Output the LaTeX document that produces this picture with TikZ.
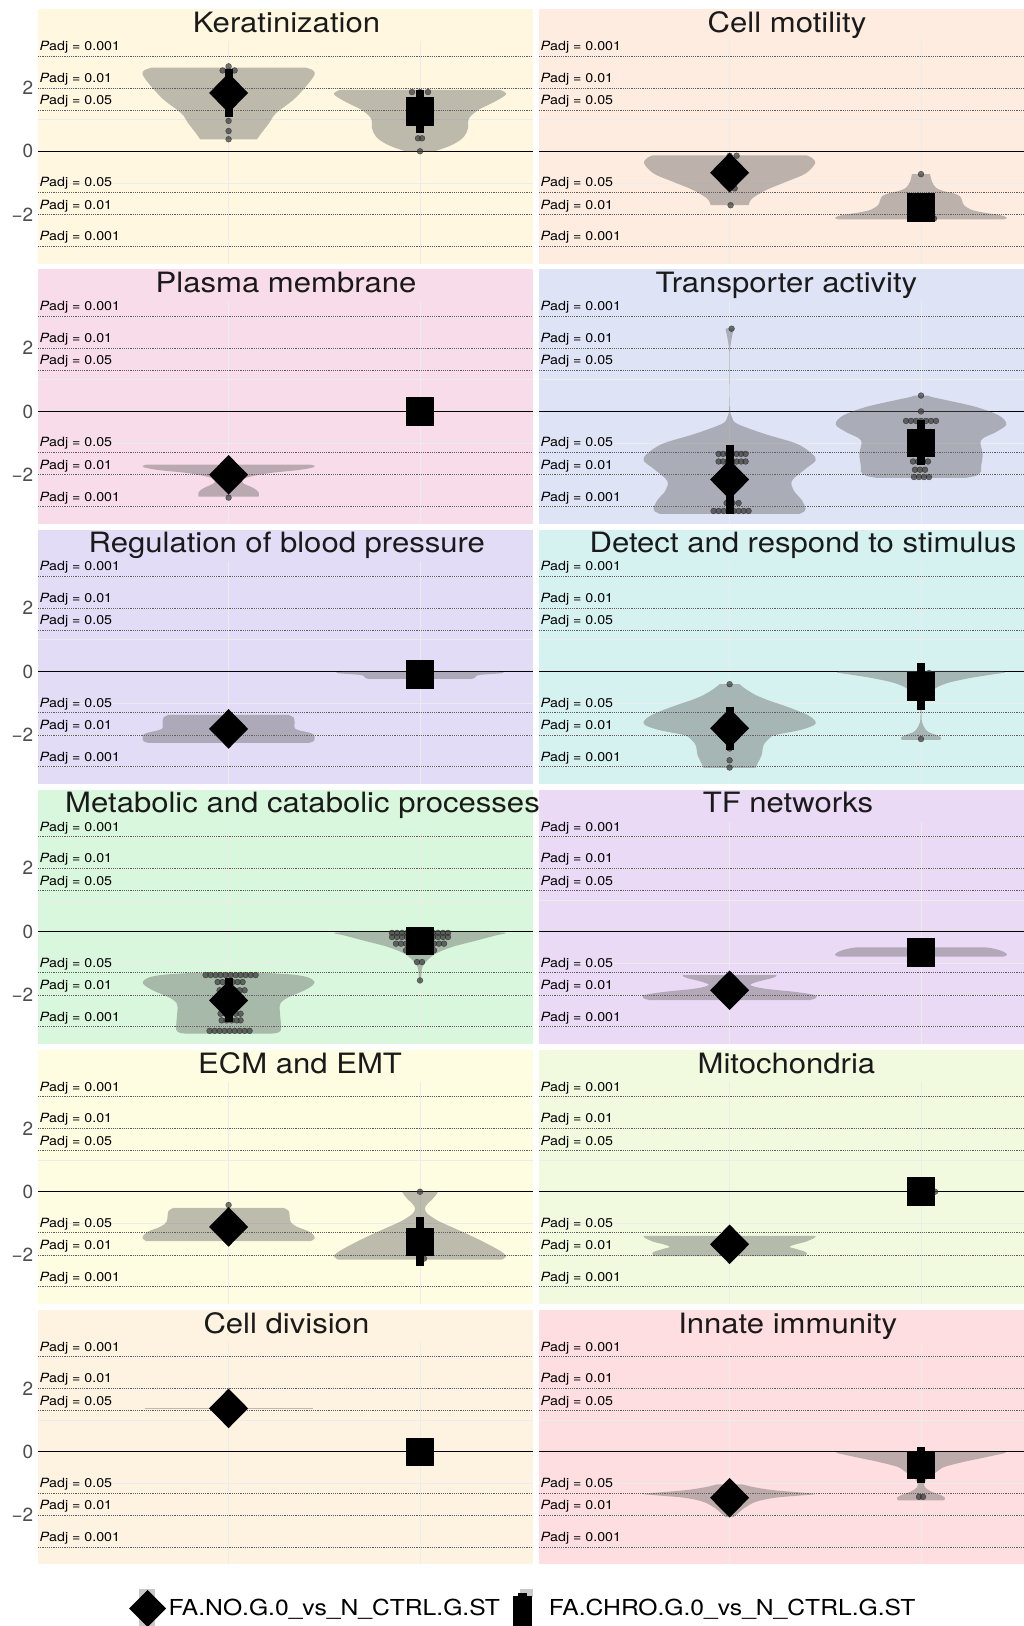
\documentclass[tikz,border=0pt]{standalone}
\usepackage{fontspec}
\usepackage{graphicx}
\setmainfont{TeX Gyre Heros}
\definecolor{bgA}{HTML}{FFF7E0}
\definecolor{bgB}{HTML}{FDECDF}
\definecolor{bgC}{HTML}{F9DCEA}
\definecolor{bgD}{HTML}{DEE3F5}
\definecolor{bgE}{HTML}{E2DCF6}
\definecolor{bgF}{HTML}{D5F2F1}
\definecolor{bgG}{HTML}{D9F7DC}
\definecolor{bgH}{HTML}{EBDAF6}
\definecolor{bgI}{HTML}{FFFDE1}
\definecolor{bgJ}{HTML}{F1FADF}
\definecolor{bgK}{HTML}{FEF3E0}
\definecolor{bgL}{HTML}{FEDEE0}
\definecolor{viocol}{RGB}{100,100,100}
\definecolor{dotcol}{RGB}{60,60,60}
\definecolor{dotedge}{RGB}{30,30,30}
\definecolor{padjcol}{RGB}{95,95,95}
\definecolor{gridcol}{RGB}{236,236,236}
\definecolor{titlecol}{RGB}{26,26,26}
\definecolor{axiscol}{RGB}{77,77,77}
\definecolor{legkeycol}{RGB}{200,200,200}
\tikzset{
  viofill/.style={fill=viocol, fill opacity=0.42},
  dotst/.style={fill=dotcol, fill opacity=0.7, draw=dotedge, draw opacity=0.65, line width=0.45pt},
  padjline/.style={dash pattern=on 1.1pt off 1.1pt, line width=0.7pt, draw=padjcol},
  gridl/.style={line width=0.8pt, draw=gridcol},
  zerol/.style={line width=1.1pt, draw=black},
  titlet/.style={font=\fontsize{28}{30}\selectfont, text=titlecol, inner sep=0pt, anchor=base},
  padjt/.style={font=\fontsize{12.7}{14}\selectfont, text=black, inner sep=0pt, anchor=base west},
  axist/.style={font=\fontsize{19}{20}\selectfont, text=axiscol, inner sep=0pt, anchor=east},
  legt/.style={font=\fontsize{22}{24}\selectfont, text=black, inner sep=0pt, anchor=base west},
}
\newcommand\wx[2]{\scalebox{#1}[1]{#2}}
% panel background, grid, Padj lines and labels, zero line
\newcommand\panelbase[3]{%
  \fill[#3] (#1,#2) rectangle (#1+494.5,#2+254.3);
  \foreach \kk in {-3,-2,-1,1,2,3} {\draw[gridl] (#1,#2+142-31.7*\kk) -- (#1+494.5,#2+142-31.7*\kk);}
  \draw[gridl] (#1+190.6,#2+32) -- (#1+190.6,#2+254.3);
  \draw[gridl] (#1+382,#2+32) -- (#1+382,#2+254.3);
  \foreach \pv/\plab in {95.1/0.001,63.4/0.01,41.05/0.05} {
    \draw[padjline] (#1,#2+142-\pv) -- (#1+494.5,#2+142-\pv);
    \draw[padjline] (#1,#2+142+\pv) -- (#1+494.5,#2+142+\pv);
    \node[padjt] at (#1+1.3,#2+142-\pv-5.5) {\wx{1.12}{\textit{P}adj = \plab}};
    \node[padjt] at (#1+1.3,#2+142+\pv-5.5) {\wx{1.12}{\textit{P}adj = \plab}};
  }
  \draw[zerol] (#1,#2+142) -- (#1+494.5,#2+142);
}
\newcommand\axislabels[1]{%
  \node[axist] at (33.5,#1+142-63.4) {2};
  \node[axist] at (33.5,#1+142) {0};
  \node[axist] at (33.5,#1+142+63.4) {−2};
}
% violin: #1 centre x, #2 list v/halfwidth from bottom to top
\newcommand\vioL[2]{%
  \gdef\vR{}\gdef\vL{}%
  \foreach \vv/\ww in {#2} {\xdef\vR{\vR(#1+\ww,\vv)}\xdef\vL{(#1-\ww,\vv)\vL}}%
  \edef\vtmp{\noexpand\fill[viofill] plot[smooth,tension=0.55] coordinates{\vR} -- plot[smooth,tension=0.55] coordinates{\vL} -- cycle;}%
  \vtmp
}
\newcommand\dotrow[3]{\foreach \dx in {#3} {\path[dotst] (#1+\dx,#2) circle (2.9pt);}}
\newcommand\errbar[3]{\fill (#1-4,#2) rectangle (#1+4,#3);}
\newcommand\mkdia[2]{\fill (#1,#2) ++(-19.5pt,0pt) -- ++(19.5pt,19.8pt) -- ++(19.5pt,-19.8pt) -- ++(-19.5pt,-19.8pt) -- cycle;}
\newcommand\mksq[2]{\fill (#1,#2) ++(-14.3pt,-14.3pt) rectangle ++(28.6pt,28.6pt);}
\begin{document}
\begin{tikzpicture}[x=1pt,y=-1pt]
\useasboundingbox (0,0) rectangle (1024,1626);
\fill[white] (0,0) rectangle (1024,1626);

% ---------- Row 1 ----------
\panelbase{38}{9.3}{bgA}
\panelbase{539}{9.3}{bgB}
\axislabels{9.3}
\node[titlet] (t1) at (286.5,32.6) {\wx{1.11}{Keratinization}};
\node[titlet] (t2) at (787,32.6) {\wx{1.11}{Cell motility}};
\begin{scope}[shift={(38,151.3)},y=31.7pt]
  \vioL{190.6}{0.38/28.4,0.57/32.7,0.89/40.5,1.2/47.3,1.62/64.6,2.05/77.5,2.42/86,2.56/84,2.64/77}
  \dotrow{190.6}{2.68}{0}
  \dotrow{190.6}{2.55}{-6,6}
  \dotrow{190.6}{0.96}{0}
  \dotrow{190.6}{0.64}{0}
  \dotrow{190.6}{0.38}{0}
  \errbar{190.6}{2.60}{1.08}
  \mkdia{190.6}{1.84}
  \vioL{382}{0/14,0.1/24,0.25/35,0.46/44,0.73/48,1.04/49,1.31/58.5,1.52/72,1.78/85.7,1.9/83,1.94/79}
  \dotrow{382}{1.87}{-8,0,8}
  \dotrow{382}{0.41}{-2,2}
  \dotrow{382}{0}{0}
  \errbar{382}{1.94}{0.57}
  \mksq{382}{1.255}
\end{scope}
\begin{scope}[shift={(539,151.3)},y=31.7pt]
  \vioL{190.6}{-1.70/19,-1.49/22.5,-1.22/36.7,-0.96/56.7,-0.70/76,-0.38/85.5,-0.2/82,-0.127/76.7}
  \dotrow{190.6}{-0.14}{0,7}
  \dotrow{190.6}{-1.17}{5}
  \dotrow{190.6}{-1.70}{1}
  \mkdia{190.6}{-0.675}
  \vioL{382}{-2.15/82,-2.1/86,-2.02/80,-1.93/62,-1.84/50,-1.7/43,-1.55/41,-1.42/39,-1.33/33,-1.25/22,-1.15/15,-0.96/11,-0.72/9}
  \dotrow{382}{-0.72}{0}
  \dotrow{382}{-2.12}{13}
  \mksq{382}{-1.77}
\end{scope}

% ---------- Row 2 ----------
\panelbase{38}{269.4}{bgC}
\panelbase{539}{269.4}{bgD}
\axislabels{269.4}
\node[titlet] (t3) at (286,292.7) {\wx{1.11}{Plasma membrane}};
\node[titlet] (t4) at (786.4,292.7) {\wx{1.11}{Transporter activity}};
\begin{scope}[shift={(38,411.4)},y=31.7pt]
  \vioL{190.6}{-2.69/30,-2.55/30,-2.42/25,-2.25/14,-2.1/17,-1.95/40,-1.85/70,-1.77/84,-1.72/86,-1.68/82}
  \dotrow{190.6}{-2.72}{0}
  \mkdia{190.6}{-2.0}
  \mksq{382}{0.0}
\end{scope}
\begin{scope}[shift={(539,411.4)},y=31.7pt]
  \vioL{190.6}{-3.23/70,-3.15/75,-3.07/76,-2.81/72.5,-2.49/64,-2.18/62.5,-1.81/76,-1.55/86,-1.34/82.5,-1.02/67,-0.70/34,-0.39/7.5,-0.2/2.5,-0.07/1,0.3/0.2,1.0/0.15,1.6/0.2,1.92/0.4,2.2/1.5,2.45/3,2.58/4,2.62/3.5}
  \dotrow{190.6}{2.61}{2}
  \dotrow{190.6}{-1.34}{-11,-6.5,-2,2.5,7,11.5,16}
  \dotrow{190.6}{-1.58}{-11,-6.5,-2,2.5,7,11.5,16}
  \dotrow{190.6}{-2.89}{-3,3,9}
  \dotrow{190.6}{-3.14}{-16,-11,-6,-1,4,9,14,19}
  \errbar{190.6}{-1.07}{-3.23}
  \mkdia{190.6}{-2.15}
  \vioL{382}{-2.1/44,-2.03/55,-1.9/60,-1.76/60,-1.34/61.7,-0.91/60,-0.65/75,-0.41/85.3,-0.13/78,0.14/55,0.35/26,0.46/10,0.5/7}
  \dotrow{382}{0.5}{0}
  \dotrow{382}{0.0}{0}
  \dotrow{382}{-0.3}{-15,-10,-5,0,5,10,15}
  \dotrow{382}{-1.58}{-8,-3,2,7}
  \dotrow{382}{-1.84}{-6,-1,4}
  \dotrow{382}{-2.07}{-7,-2,3,8}
  \errbar{382}{-0.26}{-1.7}
  \mksq{382}{-1.0}
\end{scope}

% ---------- Row 3 ----------
\panelbase{38}{529.5}{bgE}
\panelbase{539}{529.5}{bgF}
\axislabels{529.5}
\node[titlet] (t5) at (286.8,552.8) {\wx{1.11}{Regulation of blood pressure}};
\node[titlet] (t6) at (803,552.8) {\wx{1.11}{Detect and respond to stimulus}};
\begin{scope}[shift={(38,671.5)},y=31.7pt]
  \vioL{190.6}{-2.25/80,-2.2/85,-2.05/86,-1.95/83,-1.85/70,-1.78/66,-1.6/66,-1.45/65,-1.37/60}
  \mkdia{190.6}{-1.81}
  \vioL{382}{-0.23/52,-0.2/55,-0.14/56,-0.1/62,-0.06/80,-0.03/84,0.0/75}
  \mksq{382}{-0.095}
\end{scope}
\begin{scope}[shift={(539,671.5)},y=31.7pt]
  \vioL{190.6}{-3.04/26,-2.9/28,-2.64/32,-2.32/34,-2.1/40,-2.0/46,-1.85/70,-1.7/84,-1.58/86,-1.45/82,-1.37/78,-1.2/65,-1.05/52,-0.9/38,-0.74/26,-0.55/16,-0.40/10}
  \dotrow{190.6}{-0.40}{0}
  \dotrow{190.6}{-2.43}{0}
  \dotrow{190.6}{-2.8}{0}
  \dotrow{190.6}{-3.03}{0}
  \errbar{190.6}{-1.11}{-2.48}
  \mkdia{190.6}{-1.79}
  \vioL{382}{-2.16/19,-2.08/20,-2.0/15,-1.9/7,-1.75/3,-1.6/1,-1.3/0.5,-1.0/1.5,-0.85/4,-0.7/8,-0.5/16,-0.35/28,-0.2/50,-0.1/70,-0.03/84,0.02/80}
  \dotrow{382}{-0.05}{8}
  \dotrow{382}{-2.13}{0}
  \errbar{382}{0.26}{-1.21}
  \mksq{382}{-0.47}
\end{scope}

% ---------- Row 4 ----------
\panelbase{38}{789.6}{bgG}
\panelbase{539}{789.6}{bgH}
\axislabels{789.6}
\node[titlet] (t7) at (302.5,812.9) {\wx{1.11}{Metabolic and catabolic processes}};
\node[titlet] (t8) at (788,812.9) {\wx{1.11}{TF networks}};
\begin{scope}[shift={(38,931.6)},y=31.7pt]
  \vioL{190.6}{-3.22/40,-3.2/48,-3.12/52,-3.0/52.5,-2.69/51.7,-2.38/51,-2.25/52,-2.11/57.5,-2.0/65,-1.85/76,-1.72/83,-1.59/86,-1.45/80,-1.36/65,-1.30/35}
  \dotrow{190.6}{-1.37}{-23,-18,-13,-8,-3,2,7,12,17,22,27}
  \dotrow{190.6}{-1.59}{-11,-6,-1,4,9,14}
  \dotrow{190.6}{-1.85}{-9,-4,1,6,11,16}
  \dotrow{190.6}{-2.59}{-8,-3,2,7,12}
  \dotrow{190.6}{-2.8}{-7,-2,3,8,12}
  \dotrow{190.6}{-3.13}{-19,-14,-9,-4,1,6,11,16,21}
  \errbar{190.6}{-1.46}{-2.85}
  \mkdia{190.6}{-2.17}
  \vioL{382}{-1.59/1,-1.3/1.5,-1.11/2.5,-0.9/7.5,-0.69/16,-0.48/32.5,-0.27/58,-0.12/76,-0.05/86,-0.02/80,0.0/60}
  \dotrow{382}{-0.04}{-28,-23,-18,-13,13,18,23,28}
  \dotrow{382}{-0.17}{-28,-23,-18,-13,13,18,23,28}
  \dotrow{382}{-0.38}{-24,-19,-14,14,19,24}
  \dotrow{382}{-0.59}{-14,-9,9,14}
  \dotrow{382}{-0.96}{-3,2}
  \dotrow{382}{-1.54}{0}
  \mksq{382}{-0.29}
\end{scope}
\begin{scope}[shift={(539,931.6)},y=31.7pt]
  \vioL{190.6}{-2.16/80,-2.1/86,-2.0/85,-1.9/65,-1.8/35,-1.69/21,-1.58/28,-1.47/42,-1.4/47,-1.37/46}
  \mkdia{190.6}{-1.85}
  \vioL{382}{-0.79/82,-0.74/86,-0.66/84,-0.58/78,-0.52/70,-0.50/65}
  \mksq{382}{-0.65}
\end{scope}

% ---------- Row 5 ----------
\panelbase{38}{1049.7}{bgI}
\panelbase{539}{1049.7}{bgJ}
\axislabels{1049.7}
\node[titlet] (t9) at (300,1073) {\wx{1.11}{ECM and EMT}};
\node[titlet] (t10) at (786.4,1073) {\wx{1.11}{Mitochondria}};
\begin{scope}[shift={(38,1191.7)},y=31.7pt]
  \vioL{190.6}{-1.56/82,-1.48/86,-1.37/85,-1.25/80,-1.1/68,-0.95/62,-0.75/61,-0.6/60,-0.51/55}
  \dotrow{190.6}{-0.42}{0}
  \mkdia{190.6}{-1.11}
  \vioL{382}{-2.14/82,-2.05/86,-1.95/84,-1.79/76,-1.48/57,-1.16/35,-0.95/20,-0.84/14,-0.68/7,-0.53/5,-0.4/7,-0.25/12,-0.1/16,0.0/18}
  \dotrow{382}{0.0}{0}
  \dotrow{382}{-2.11}{4}
  \errbar{382}{-0.79}{-2.35}
  \mksq{382}{-1.58}
\end{scope}
\begin{scope}[shift={(539,1191.7)},y=31.7pt]
  \vioL{190.6}{-2.03/73,-1.98/77,-1.9/76,-1.8/66,-1.74/60,-1.66/66,-1.58/76,-1.47/84,-1.41/86,-1.39/84}
  \mkdia{190.6}{-1.66}
  \dotrow{382}{0}{14}
  \mksq{382}{0}
\end{scope}

% ---------- Row 6 ----------
\panelbase{38}{1309.8}{bgK}
\panelbase{539}{1309.8}{bgL}
\axislabels{1309.8}
\node[titlet] (t11) at (286.4,1333.1) {\wx{1.11}{Cell division}};
\node[titlet] (t12) at (787.7,1333.1) {\wx{1.11}{Innate immunity}};
\begin{scope}[shift={(38,1451.8)},y=31.7pt]
  \draw[draw=viocol, draw opacity=0.4, line width=1.3pt] (190.6-84,1.37) -- (190.6+84,1.37);
  \mkdia{190.6}{1.37}
  \mksq{382}{0}
\end{scope}
\begin{scope}[shift={(539,1451.8)},y=31.7pt]
  \vioL{190.6}{-2.06/4,-1.95/8,-1.79/14,-1.58/26,-1.45/45,-1.38/70,-1.33/86,-1.28/70,-1.21/44,-1.12/25,-1.03/13}
  \mkdia{190.6}{-1.45}
  \vioL{382}{-1.53/23,-1.45/24,-1.37/20,-1.25/10,-1.12/4,-1.0/3.5,-0.85/6,-0.74/11,-0.6/17,-0.47/24,-0.3/45,-0.21/59,-0.1/75,-0.03/85,0.0/80}
  \dotrow{382}{-1.42}{-2,2}
  \errbar{382}{0.14}{-0.98}
  \mksq{382}{-0.42}
\end{scope}

% ---------- Legend ----------
\fill[legkeycol] (139,1589) rectangle (155,1626);
\fill (147.7,1590) -- (166.2,1608.5) -- (147.7,1627) -- (129.2,1608.5) -- cycle;
\node[legt] (l1) at (168.3,1615) {\wx{1.12}{FA.NO.G.0\_vs\_N\_CTRL.G.ST}};
\fill[legkeycol] (520,1589) rectangle (533.3,1597);
\fill (518,1592.5) rectangle (526.5,1626);
\fill (512.7,1596) rectangle (531.7,1626);
\node[legt] (l2) at (548.7,1615) {\wx{1.12}{FA.CHRO.G.0\_vs\_N\_CTRL.G.ST}};
\end{tikzpicture}
\end{document}
